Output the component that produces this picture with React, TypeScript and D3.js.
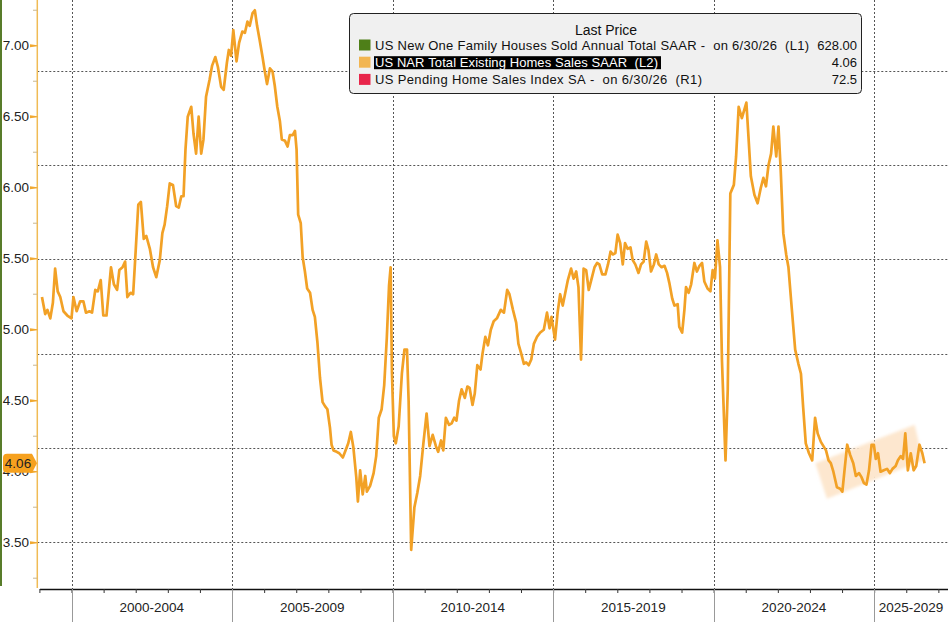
import React, { useEffect, useRef } from "react";
import * as d3 from "d3";

const WIDTH = 948;
const HEIGHT = 622;

// US NAR existing home sales, millions SAAR, [decimal year, value]
const sales1999to2004: [number, number][] = [
  [1999.08, 5.23], [1999.18, 5.11], [1999.25, 5.14], [1999.34, 5.08], [1999.42, 5.19], [1999.49, 5.43], [1999.57, 5.27], [1999.65, 5.23], [1999.75, 5.13], [1999.87, 5.1],
  [2000.0, 5.08], [2000.06, 5.23], [2000.16, 5.13], [2000.27, 5.2], [2000.37, 5.2], [2000.45, 5.12], [2000.56, 5.13], [2000.64, 5.12], [2000.74, 5.28], [2000.82, 5.27], [2000.91, 5.35], [2000.99, 5.1],
  [2001.09, 5.1], [2001.23, 5.44], [2001.32, 5.32], [2001.42, 5.28], [2001.49, 5.42], [2001.59, 5.44], [2001.67, 5.48], [2001.74, 5.23], [2001.84, 5.26], [2001.92, 5.25],
  [2002.0, 5.56], [2002.08, 5.88], [2002.16, 5.9], [2002.25, 5.64], [2002.33, 5.66], [2002.44, 5.57], [2002.54, 5.44], [2002.64, 5.37], [2002.75, 5.49], [2002.83, 5.68], [2002.9, 5.74], [2002.98, 5.87],
  [2003.06, 6.03], [2003.16, 6.02], [2003.26, 5.87], [2003.34, 5.86], [2003.42, 5.94], [2003.49, 5.94], [2003.55, 6.27], [2003.62, 6.5], [2003.73, 6.57], [2003.8, 6.38], [2003.88, 6.24], [2003.96, 6.5],
  [2004.04, 6.24], [2004.11, 6.34], [2004.19, 6.64], [2004.3, 6.76], [2004.38, 6.86], [2004.48, 6.92], [2004.56, 6.85], [2004.66, 6.71], [2004.74, 6.69], [2004.84, 6.88], [2004.9, 6.97], [2004.97, 6.93],
];

const sales2005to2009: [number, number][] = [
  [2005.04, 7.11], [2005.14, 6.89], [2005.22, 7.02], [2005.32, 7.1], [2005.4, 7.09], [2005.48, 7.17], [2005.55, 7.14], [2005.64, 7.23], [2005.71, 7.25], [2005.78, 7.14], [2005.86, 7.04], [2005.95, 6.92],
  [2006.02, 6.82], [2006.09, 6.73], [2006.18, 6.84], [2006.26, 6.82], [2006.33, 6.72], [2006.41, 6.57], [2006.49, 6.47], [2006.55, 6.34], [2006.65, 6.33], [2006.73, 6.29], [2006.8, 6.37], [2006.89, 6.37], [2006.96, 6.4],
  [2007.01, 6.27], [2007.06, 5.81], [2007.14, 5.75], [2007.2, 5.51], [2007.27, 5.41], [2007.34, 5.29], [2007.43, 5.26], [2007.51, 5.14], [2007.58, 5.09], [2007.66, 4.91], [2007.74, 4.66], [2007.82, 4.49], [2007.9, 4.46], [2007.97, 4.44],
  [2008.05, 4.31], [2008.1, 4.19], [2008.16, 4.15], [2008.26, 4.14], [2008.34, 4.13], [2008.45, 4.1], [2008.52, 4.14], [2008.62, 4.2], [2008.7, 4.28], [2008.78, 4.17], [2008.87, 3.96], [2008.92, 3.79], [2008.99, 4.01],
  [2009.07, 3.84], [2009.15, 3.97], [2009.2, 3.86], [2009.3, 3.9], [2009.41, 3.99], [2009.49, 4.11], [2009.57, 4.38], [2009.66, 4.44], [2009.74, 4.61], [2009.82, 4.94], [2009.89, 5.31], [2009.94, 5.44], [2009.98, 4.7],
];

const sales2010to2014: [number, number][] = [
  [2010.04, 4.25], [2010.1, 4.2], [2010.19, 4.32], [2010.29, 4.69], [2010.37, 4.86], [2010.45, 4.86], [2010.5, 4.5], [2010.58, 3.45], [2010.68, 3.75], [2010.77, 3.85], [2010.86, 3.97], [2010.96, 4.2],
  [2011.06, 4.41], [2011.15, 4.18], [2011.25, 4.26], [2011.35, 4.18], [2011.42, 4.14], [2011.51, 4.22], [2011.58, 4.15], [2011.66, 4.38], [2011.76, 4.33], [2011.84, 4.34], [2011.92, 4.38], [2011.99, 4.36],
  [2012.07, 4.5], [2012.15, 4.58], [2012.25, 4.52], [2012.33, 4.6], [2012.4, 4.59], [2012.49, 4.47], [2012.56, 4.55], [2012.64, 4.75], [2012.74, 4.72], [2012.8, 4.83], [2012.89, 4.95], [2012.97, 4.89],
  [2013.06, 5.0], [2013.15, 5.06], [2013.25, 5.08], [2013.37, 5.14], [2013.47, 5.12], [2013.57, 5.28], [2013.64, 5.25], [2013.75, 5.14], [2013.85, 5.05], [2013.92, 4.9],
  [2014.01, 4.83], [2014.09, 4.76], [2014.16, 4.77], [2014.24, 4.75], [2014.32, 4.79], [2014.4, 4.9], [2014.5, 4.95], [2014.6, 4.98], [2014.71, 5.0], [2014.81, 5.12], [2014.89, 5.01], [2014.95, 5.09],
];

const sales2015to2019: [number, number][] = [
  [2015.06, 4.93], [2015.14, 5.12], [2015.22, 5.25], [2015.3, 5.17], [2015.38, 5.26], [2015.46, 5.35], [2015.56, 5.43], [2015.64, 5.36], [2015.72, 5.41], [2015.79, 5.3], [2015.87, 4.79], [2015.95, 5.43],
  [2016.03, 5.42], [2016.11, 5.28], [2016.2, 5.36], [2016.29, 5.44], [2016.37, 5.47], [2016.44, 5.46], [2016.53, 5.39], [2016.63, 5.39], [2016.71, 5.46], [2016.79, 5.55], [2016.86, 5.53], [2016.94, 5.54],
  [2017.01, 5.67], [2017.09, 5.61], [2017.17, 5.46], [2017.24, 5.61], [2017.32, 5.57], [2017.41, 5.58], [2017.48, 5.49], [2017.56, 5.46], [2017.66, 5.4], [2017.74, 5.46], [2017.82, 5.48], [2017.9, 5.62], [2017.97, 5.56],
  [2018.05, 5.41], [2018.14, 5.46], [2018.21, 5.53], [2018.29, 5.46], [2018.38, 5.44], [2018.47, 5.45], [2018.55, 5.4], [2018.62, 5.33], [2018.71, 5.22], [2018.78, 5.17], [2018.88, 5.18], [2018.93, 5.02],
  [2019.02, 4.98], [2019.09, 5.14], [2019.14, 5.3], [2019.22, 5.26], [2019.3, 5.32], [2019.4, 5.47], [2019.48, 5.41], [2019.56, 5.45], [2019.64, 5.47], [2019.71, 5.34], [2019.81, 5.29], [2019.9, 5.27], [2019.97, 5.42],
];

const sales2020to2024: [number, number][] = [
  [2020.04, 5.36], [2020.12, 5.63], [2020.2, 5.44], [2020.26, 4.78], [2020.37, 4.08], [2020.44, 4.58], [2020.52, 5.96], [2020.63, 6.02], [2020.7, 6.22], [2020.78, 6.57], [2020.88, 6.49],
  [2021.02, 6.6], [2021.09, 6.34], [2021.16, 6.08], [2021.27, 5.95], [2021.37, 5.89], [2021.47, 6.0], [2021.55, 6.07], [2021.63, 6.01], [2021.71, 6.16], [2021.79, 6.24], [2021.86, 6.43], [2021.95, 6.22],
  [2022.02, 6.43], [2022.09, 6.12], [2022.17, 5.68], [2022.26, 5.53], [2022.33, 5.44], [2022.43, 5.16], [2022.54, 4.86], [2022.64, 4.76], [2022.72, 4.69], [2022.79, 4.45], [2022.87, 4.2], [2022.97, 4.13],
  [2023.07, 4.08], [2023.16, 4.38], [2023.24, 4.27], [2023.34, 4.21], [2023.42, 4.18], [2023.5, 4.15], [2023.58, 4.08], [2023.65, 4.06], [2023.73, 4.0], [2023.84, 3.89], [2023.94, 3.88],
  [2024.01, 3.86], [2024.09, 4.04], [2024.16, 4.19], [2024.25, 4.12], [2024.35, 4.06], [2024.43, 3.97], [2024.53, 3.99], [2024.61, 3.96], [2024.68, 3.92], [2024.76, 3.91], [2024.84, 4.01], [2024.92, 4.19], [2024.99, 4.19],
];

const sales2025on: [number, number][] = [
  [2025.05, 4.09], [2025.12, 4.13], [2025.2, 4.0], [2025.3, 4.01], [2025.4, 4.02], [2025.49, 3.99], [2025.57, 4.02], [2025.67, 4.04], [2025.74, 4.08], [2025.83, 4.11], [2025.9, 4.09], [2025.97, 4.27],
  [2026.05, 4.01], [2026.14, 4.13], [2026.23, 4.01], [2026.31, 4.04], [2026.41, 4.19], [2026.5, 4.13], [2026.57, 4.06],
];

const yTickValues = [3.5, 4.0, 4.5, 5.0, 5.5, 6.0, 6.5, 7.0];
const yMinorValues = [3.25, 3.75, 4.25, 4.75, 5.25, 5.75, 6.25, 6.75, 7.25];
// dotted gridlines belong to the hidden L1 axis, expressed in L2 units
const gridValues = [3.503, 4.167, 4.831, 5.495, 6.159, 6.824];

const periodStarts = [2000, 2005, 2010, 2015, 2020, 2025];
const periodLabels = ["2000-2004", "2005-2009", "2010-2014", "2015-2019", "2020-2024", "2025-2029"];

const legendNames = [
  "US New One Family Houses Sold Annual Total SAAR -  on 6/30/26  (L1)",
  "US NAR Total Existing Homes Sales SAAR  (L2)",
  "US Pending Home Sales Index SA -  on 6/30/26  (R1)",
];
const legendColors = ["#4e7f18", "#f2b551", "#e8254a"];
const legendValues = ["628.00", "4.06", "72.5"];
// widths the legend texts take in the reference
const legendTextWidths = [434, 283, 327];

// highlighted range annotation, corners as [year, value]
const bandCorners: [number, number][] = [
  [2023.17, 4.06],
  [2026.26, 4.33],
  [2026.52, 4.08],
  [2023.53, 3.81],
];

const lastValue = 4.06;

export default function App() {
  const svgRef = useRef<SVGSVGElement>(null);

  useEffect(() => {
    if (!svgRef.current) return;
    const svg = d3.select(svgRef.current);
    svg.selectAll("*").remove();

    const font = "'Liberation Sans', Arial, sans-serif";
    const axisY = 589;
    const axisX = 37.3;

    const x = d3.scaleLinear().domain([1999, 2027.3]).range([39.4, WIDTH]);
    const y = d3.scaleLinear().domain([3.181, 7.322]).range([588, 0]);

    const sales = [
      ...sales1999to2004,
      ...sales2005to2009,
      ...sales2010to2014,
      ...sales2015to2019,
      ...sales2020to2024,
      ...sales2025on,
    ];

    svg.append("rect").attr("width", WIDTH).attr("height", HEIGHT).attr("fill", "#fff");

    // dotted grid
    svg
      .append("g")
      .selectAll("line")
      .data(gridValues)
      .join("line")
      .attr("x1", axisX)
      .attr("x2", WIDTH)
      .attr("y1", (d) => Math.round(y(d)) + 0.5)
      .attr("y2", (d) => Math.round(y(d)) + 0.5)
      .attr("stroke", "#555")
      .attr("stroke-dasharray", "2,2");

    svg
      .append("g")
      .selectAll("line")
      .data(periodStarts)
      .join("line")
      .attr("x1", (d) => Math.round(x(d)) + 0.5)
      .attr("x2", (d) => Math.round(x(d)) + 0.5)
      .attr("y1", 0)
      .attr("y2", axisY)
      .attr("stroke", "#555")
      .attr("stroke-dasharray", "2,2");

    // highlighted band
    svg
      .append("defs")
      .append("filter")
      .attr("id", "soft")
      .attr("x", "-20%")
      .attr("y", "-20%")
      .attr("width", "140%")
      .attr("height", "140%")
      .append("feGaussianBlur")
      .attr("stdDeviation", 1.4);

    svg
      .append("polygon")
      .attr("points", bandCorners.map(([a, b]) => `${x(a)},${y(b)}`).join(" "))
      .attr("fill", "#fde7cf")
      .attr("filter", "url(#soft)");

    // series
    const line = d3
      .line<[number, number]>()
      .x((d) => x(d[0]))
      .y((d) => y(d[1]));

    svg
      .append("path")
      .datum(sales)
      .attr("d", line)
      .attr("fill", "none")
      .attr("stroke", "#f2a126")
      .attr("stroke-width", 2.7)
      .attr("stroke-linejoin", "round");

    // x axis
    const xAxis = svg
      .append("g")
      .attr("transform", `translate(0,${axisY})`)
      .call(
        d3
          .axisBottom(x)
          .tickValues(d3.range(1999, 2028))
          .tickSize(4)
          .tickSizeOuter(0)
          .tickFormat(() => "")
      );
    xAxis.select(".domain").attr("stroke", "#111").attr("stroke-width", 1.5);
    xAxis.selectAll(".tick line").attr("stroke", "#333");

    svg
      .append("g")
      .selectAll("line")
      .data(periodStarts)
      .join("line")
      .attr("x1", (d) => Math.round(x(d)) + 0.5)
      .attr("x2", (d) => Math.round(x(d)) + 0.5)
      .attr("y1", axisY)
      .attr("y2", HEIGHT)
      .attr("stroke", "#999");

    svg
      .append("g")
      .selectAll("text")
      .data(periodStarts)
      .join("text")
      .attr("x", (d) => (x(d) + x(Math.min(d + 5, 2027.3))) / 2)
      .attr("y", 612)
      .attr("text-anchor", "middle")
      .attr("font-family", font)
      .attr("font-size", 13.5)
      .attr("fill", "#222")
      .text((d, i) => periodLabels[i]);

    // left (L1) axis edge
    svg
      .append("line")
      .attr("x1", 1)
      .attr("x2", 1)
      .attr("y1", 0)
      .attr("y2", 586)
      .attr("stroke", "#587c2a")
      .attr("stroke-width", 2);

    // L2 axis
    svg
      .append("line")
      .attr("x1", axisX)
      .attr("x2", axisX)
      .attr("y1", 0)
      .attr("y2", 588)
      .attr("stroke", "#f0bb55")
      .attr("stroke-width", 1.5);

    svg
      .append("g")
      .selectAll("line")
      .data(yMinorValues)
      .join("line")
      .attr("x1", 33)
      .attr("x2", axisX)
      .attr("y1", (d) => y(d))
      .attr("y2", (d) => y(d))
      .attr("stroke", "#c9b68e");

    svg
      .append("g")
      .selectAll("path")
      .data(yTickValues)
      .join("path")
      .attr("d", (d) => `M30,${y(d) - 1.5}L${axisX},${y(d) - 0.5}L${axisX},${y(d) + 0.5}L30,${y(d) + 1.5}Z`)
      .attr("fill", "#f0a830");

    svg
      .append("g")
      .selectAll("text")
      .data(yTickValues)
      .join("text")
      .attr("x", 29)
      .attr("y", (d) => y(d) + 4.5)
      .attr("text-anchor", "end")
      .attr("font-family", font)
      .attr("font-size", 13.5)
      .attr("fill", "#222")
      .text((d) => d.toFixed(2));

    // last value tag
    const ly = y(lastValue);
    svg
      .append("path")
      .attr(
        "d",
        `M37,${ly}L32,${ly - 9.5}L7,${ly - 9.5}Q3,${ly - 9.5} 3,${ly - 5.5}L3,${ly + 5.5}Q3,${ly + 9.5} 7,${ly + 9.5}L32,${ly + 9.5}Z`
      )
      .attr("fill", "#f6a11e");
    svg
      .append("text")
      .attr("x", 18)
      .attr("y", ly + 5)
      .attr("text-anchor", "middle")
      .attr("font-family", font)
      .attr("font-size", 13.5)
      .attr("fill", "#222")
      .text(lastValue.toFixed(2));

    // legend
    const legend = svg.append("g");
    legend
      .append("rect")
      .attr("x", 349.5)
      .attr("y", 13.5)
      .attr("width", 512)
      .attr("height", 80)
      .attr("rx", 4)
      .attr("fill", "#f0f0f0")
      .attr("stroke", "#222");

    legend
      .append("text")
      .attr("x", 606)
      .attr("y", 35)
      .attr("text-anchor", "middle")
      .attr("font-family", font)
      .attr("font-size", 14)
      .attr("fill", "#111")
      .text("Last Price");

    const rows = legend
      .selectAll("g.row")
      .data(legendNames)
      .join("g")
      .attr("class", "row")
      .attr("transform", (d, i) => `translate(0,${50 + i * 17.2})`);

    rows
      .append("rect")
      .attr("x", 359)
      .attr("y", -10.5)
      .attr("width", 11.5)
      .attr("height", 11)
      .attr("fill", (d, i) => legendColors[i]);

    rows
      .filter((d, i) => i === 1)
      .append("rect")
      .attr("x", 374)
      .attr("y", -11)
      .attr("width", 287)
      .attr("height", 13)
      .attr("fill", "#000");

    rows
      .append("text")
      .attr("x", 375)
      .attr("font-family", font)
      .attr("font-size", 13)
      .attr("textLength", (d, i) => legendTextWidths[i])
      .attr("lengthAdjust", "spacing")
      .attr("fill", (d, i) => (i === 1 ? "#fff" : "#111"))
      .text((d) => d.replace(/ /g, "\u00a0"));

    rows
      .append("text")
      .attr("x", 857)
      .attr("text-anchor", "end")
      .attr("font-family", font)
      .attr("font-size", 13)
      .attr("fill", "#111")
      .text((d, i) => legendValues[i]);
  }, []);

  return (
    <svg
      ref={svgRef}
      width={WIDTH}
      height={HEIGHT}
      style={{ position: "fixed", left: 0, top: 0, display: "block" }}
    />
  );
}
